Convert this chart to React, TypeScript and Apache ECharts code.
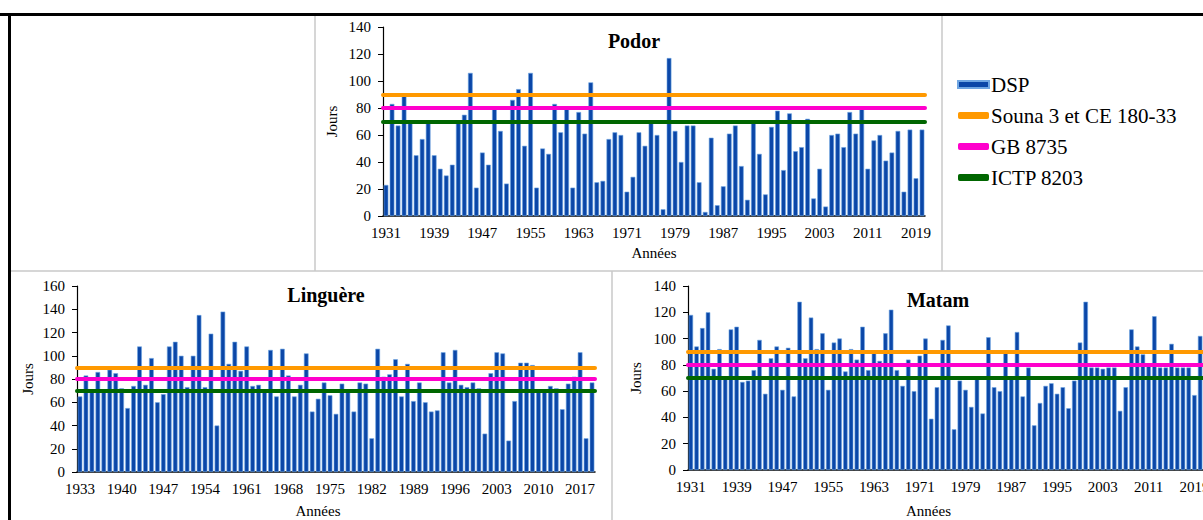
import React, { useEffect, useRef } from "react";
import * as echarts from "echarts";

// ---------- DATA ----------
const podorStart = 1931;
const podorEnd = 2020;
const linguereStart = 1933;
const linguereEnd = 2019;
const matamStart = 1931;
const matamEnd = 2020;

const podorValues = [
  23, 83, 67, 89, 70, 45, 57, 70, 45, 35, 30, 38, 70, 75, 106, 21, 47, 38, 80, 63,
  24, 86, 94, 52, 106, 21, 50, 46, 83, 62, 80, 21, 77, 61, 99, 25, 26, 57, 62, 60,
  18, 29, 62, 52, 70, 60, 5, 117, 63, 40, 67, 67, 25, 3, 58, 8, 22, 61, 67, 37,
  12, 70, 46, 16, 66, 78, 34, 76, 48, 51, 72, 13, 35, 7, 60, 61, 51, 77, 61, 80,
  35, 56, 60, 41, 47, 63, 18, 64, 28, 64,
];

const linguereValues = [
  65, 83, 70, 86, 70, 88, 85, 72, 55, 74, 108, 75, 98, 60, 67, 108, 112, 100, 73, 100,
  135, 73, 119, 40, 138, 93, 112, 87, 108, 74, 75, 70, 105, 65, 106, 83, 65, 75, 102, 52,
  63, 77, 66, 50, 76, 70, 52, 77, 76, 29, 106, 82, 84, 97, 65, 93, 61, 77, 60, 52,
  53, 103, 77, 105, 75, 73, 77, 72, 33, 85, 103, 102, 27, 61, 94, 94, 92, 70, 70, 74,
  72, 54, 76, 82, 103, 29, 77,
];

const matamValues = [
  118, 94, 108, 120, 77, 92, 70, 107, 109, 67, 68, 76, 99, 58, 85, 94, 61, 93, 56, 128,
  85, 116, 92, 104, 61, 97, 100, 75, 92, 84, 109, 76, 89, 83, 104, 122, 76, 64, 84, 60,
  87, 100, 39, 63, 99, 110, 31, 68, 61, 48, 70, 43, 101, 63, 60, 89, 70, 105, 56, 78,
  34, 51, 64, 66, 58, 63, 47, 68, 97, 128, 78, 78, 77, 78, 78, 45, 63, 107, 94, 88,
  81, 117, 78, 78, 96, 78, 78, 78, 57, 102,
];

const thresholdNames = ["Souna 3 et CE 180-33", "GB 8735", "ICTP 8203"];
const thresholdValues = [90, 80, 70];
const thresholdColors = ["#FF9900", "#FF00CC", "#006600"];

const panelTitles = ["Podor", "Linguère", "Matam"];
const yMax = [140, 160, 140];
const labelEvery = [8, 7, 8];

function years(a: number, b: number): string[] {
  const out: string[] = [];
  for (let y = a; y <= b; y++) out.push(String(y));
  return out;
}

const podorYears = years(podorStart, podorEnd);
const linguereYears = years(linguereStart, linguereEnd);
const matamYears = years(matamStart, matamEnd);

// ---------- LAYOUT ----------
const FONT = "Liberation Serif";
const grids = [
  { left: 383, right: 278, top: 27, bottom: 304 },
  { left: 77, right: 608, top: 286, bottom: 48 },
  { left: 688, right: 0, top: 286, bottom: 50 },
];
const yNameGap = [44, 42, 45];
const xNameGap = [29, 31, 33];
const xNamePadRight = [0, 36, 34];
const titlePos = [
  { left: 634, top: 31 },
  { left: 326, top: 285 },
  { left: 938, top: 290 },
];

export default function App() {
  const ref = useRef<HTMLDivElement>(null);

  useEffect(() => {
    document.body.style.margin = "0";
    if (!ref.current) return;
    const chart = echarts.init(ref.current, null, { renderer: "svg" });

    const cats = [podorYears, linguereYears, matamYears];
    const vals = [podorValues, linguereValues, matamValues];

    const xAxis = cats.map((c, i) => ({
      type: "category",
      gridIndex: i,
      data: c,
      name: "Années",
      nameLocation: "middle",
      nameGap: xNameGap[i],
      nameTextStyle: {
        fontFamily: FONT,
        fontSize: 15,
        color: "#000",
        padding: [0, xNamePadRight[i], 0, 0],
      },
      axisLine: { show: true, lineStyle: { color: "#000", width: 1.5 } },
      axisTick: { show: false },
      axisLabel: {
        interval: labelEvery[i] - 1,
        margin: 9,
        fontFamily: FONT,
        fontSize: 15,
        color: "#000",
        hideOverlap: false,
      },
      splitLine: { show: false },
    }));

    const yAxis = cats.map((_, i) => ({
      type: "value",
      gridIndex: i,
      min: 0,
      max: yMax[i],
      interval: 20,
      name: "Jours",
      nameLocation: "middle",
      nameRotate: 90,
      nameGap: yNameGap[i],
      nameTextStyle: { fontFamily: FONT, fontSize: 15, color: "#000" },
      axisLine: { show: true, lineStyle: { color: "#000", width: 1.2 } },
      axisTick: { show: true, length: 5, lineStyle: { color: "#000" } },
      axisLabel: {
        margin: 12,
        fontFamily: FONT,
        fontSize: 15,
        color: "#000",
      },
      splitLine: { show: false },
    }));

    const series: any[] = [];
    vals.forEach((v, i) => {
      series.push({
        type: "bar",
        name: "DSP",
        xAxisIndex: i,
        yAxisIndex: i,
        data: v,
        barCategoryGap: "22%",
        itemStyle: { color: "#0b47a8", borderColor: "#6fa6e2", borderWidth: 0.6 },
        z: 2,
      });
      thresholdNames.forEach((n, k) => {
        series.push({
          type: "line",
          name: n,
          xAxisIndex: i,
          yAxisIndex: i,
          data: [],
          color: thresholdColors[k],
          itemStyle: { color: thresholdColors[k] },
          lineStyle: { color: thresholdColors[k] },
          z: 3,
          markLine: {
            silent: true,
            symbol: "none",
            label: { show: false },
            lineStyle: {
              color: thresholdColors[k],
              width: 4,
              type: "solid",
              cap: "round",
            },
            data: [{ yAxis: thresholdValues[k] }],
          },
        });
      });
    });

    const option: any = {
      animation: false,
      backgroundColor: "#fff",
      title: panelTitles.map((t, i) => ({
        text: t,
        left: titlePos[i].left,
        top: titlePos[i].top,
        textAlign: "center",
        padding: 0,
        textStyle: { fontFamily: FONT, fontSize: 20, fontWeight: "bold", color: "#000" },
      })),
      legend: {
        orient: "vertical",
        left: 957,
        top: 74,
        padding: 0,
        itemWidth: 31,
        itemHeight: 7,
        itemGap: 10,
        selectedMode: false,
        textStyle: { fontFamily: FONT, fontSize: 21, color: "#000", padding: [0, 0, 0, -3] },
        data: [
          { name: "DSP", icon: "rect" },
          ...thresholdNames.map((n) => ({ name: n, icon: "roundRect" })),
        ],
      },
      grid: grids.map((g) => ({ ...g, containLabel: false, outerBoundsMode: "none" })),
      xAxis,
      yAxis,
      series,
      graphic: [
        { type: "rect", shape: { x: 0, y: 13, width: 1203, height: 3 }, style: { fill: "#000" }, silent: true },
        { type: "rect", shape: { x: 8, y: 13, width: 3, height: 507 }, style: { fill: "#000" }, silent: true },
        { type: "line", shape: { x1: 11, y1: 271, x2: 1203, y2: 271 }, style: { stroke: "#c8c8c8", lineWidth: 1.5 }, silent: true },
        { type: "line", shape: { x1: 315, y1: 16, x2: 315, y2: 271 }, style: { stroke: "#c8c8c8", lineWidth: 1.5 }, silent: true },
        { type: "line", shape: { x1: 942, y1: 16, x2: 942, y2: 271 }, style: { stroke: "#c8c8c8", lineWidth: 1.5 }, silent: true },
        { type: "line", shape: { x1: 612, y1: 271, x2: 612, y2: 520 }, style: { stroke: "#c8c8c8", lineWidth: 1.5 }, silent: true },
      ],
    };

    chart.setOption(option);
    return () => chart.dispose();
  }, []);

  return <div ref={ref} style={{ width: 1203, height: 520 }} />;
}
